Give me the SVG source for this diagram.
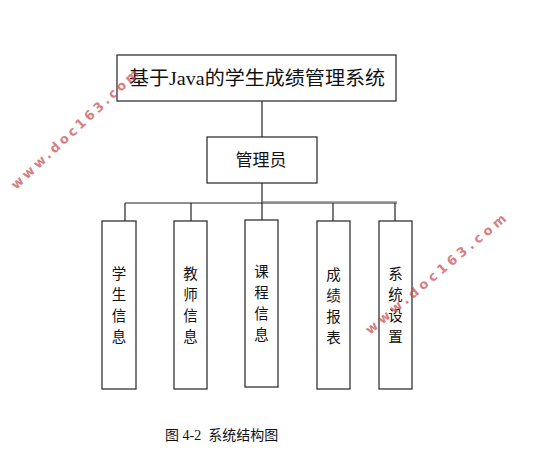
<svg xmlns="http://www.w3.org/2000/svg" width="548" height="472" viewBox="0 0 548 472">
<style>
.box{fill:#fff;stroke:#333;stroke-width:1.3}
.ln{stroke:#222;stroke-width:1.2;fill:none}
.t{font-family:"Liberation Serif","Noto Sans CJK SC",serif;fill:#111}
.v{font-family:"Noto Sans CJK SC",sans-serif;font-size:14.5px;fill:#111;text-anchor:middle}
.wm{font-family:"DejaVu Sans",sans-serif;font-weight:bold;font-size:13px;fill:#c8484a;opacity:0.7;letter-spacing:3px}
</style>
<rect width="548" height="472" fill="#fff"/>
<g id="connectors">
<line class="ln" x1="262" y1="101" x2="262" y2="137"/>
<line class="ln" x1="262" y1="183" x2="262" y2="220"/>
<line class="ln" x1="125" y1="203" x2="397" y2="203"/>
<line x1="262" y1="201.8" x2="397" y2="201.8" stroke="#888" stroke-width="1"/>
<line class="ln" x1="125" y1="203" x2="125" y2="221"/>
<line class="ln" x1="191" y1="203" x2="191" y2="221"/>
<line class="ln" x1="333" y1="203" x2="333" y2="221"/>
<line class="ln" x1="395" y1="203" x2="395" y2="221"/>
</g>
<g id="root">
<rect class="box" x="117" y="55" width="279" height="46"/>
<text class="t" x="257" y="85" font-size="19" text-anchor="middle" textLength="256" lengthAdjust="spacingAndGlyphs">基于Java的学生成绩管理系统</text>
</g>
<g id="admin">
<rect class="box" x="207" y="137" width="110" height="46"/>
<text x="261" y="166" font-size="17" text-anchor="middle" style="font-family:'Noto Sans CJK SC',sans-serif;fill:#111">管理员</text>
</g>
<g id="n1">
<rect class="box" x="102" y="221" width="34" height="168"/>
<text class="v" x="119" y="279">学</text><text class="v" x="119" y="300">生</text><text class="v" x="119" y="321">信</text><text class="v" x="119" y="342">息</text>
</g>
<g id="n2">
<rect class="box" x="174" y="221" width="33" height="168"/>
<text class="v" x="190.5" y="279">教</text><text class="v" x="190.5" y="300">师</text><text class="v" x="190.5" y="321">信</text><text class="v" x="190.5" y="342">息</text>
</g>
<g id="n3">
<rect class="box" x="245" y="220" width="33" height="167"/>
<text class="v" x="261.5" y="277">课</text><text class="v" x="261.5" y="298">程</text><text class="v" x="261.5" y="319">信</text><text class="v" x="261.5" y="340">息</text>
</g>
<g id="n4">
<rect class="box" x="317" y="221" width="33" height="168"/>
<text class="v" x="333.5" y="280">成</text><text class="v" x="333.5" y="301">绩</text><text class="v" x="333.5" y="322">报</text><text class="v" x="333.5" y="343">表</text>
</g>
<g id="n5">
<rect class="box" x="379" y="221" width="33" height="168"/>
<text class="v" x="395.5" y="279">系</text><text class="v" x="395.5" y="300">统</text><text class="v" x="395.5" y="321">设</text><text class="v" x="395.5" y="342">置</text>
</g>
<text class="t" x="165" y="440" font-size="14" xml:space="preserve">图 4-2  系统结构图</text>
<text class="wm" transform="translate(16,190) rotate(-43)" textLength="172">www.doc163.com</text>
<text class="wm" transform="translate(370,335) rotate(-40)" textLength="182">www.doc163.com</text>
</svg>
